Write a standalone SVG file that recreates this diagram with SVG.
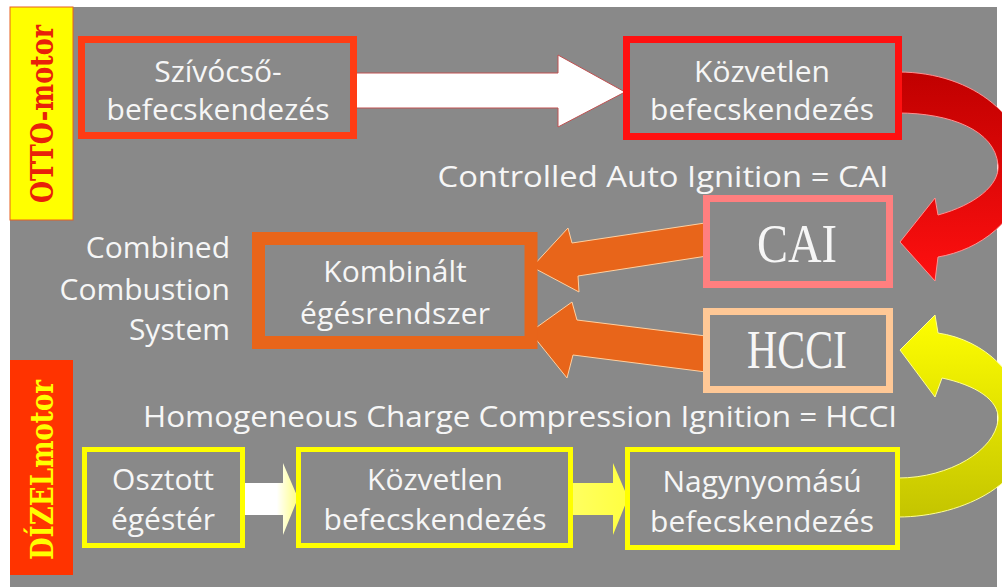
<svg xmlns="http://www.w3.org/2000/svg" width="1002" height="587" viewBox="0 0 1002 587">
<defs>
<style>
.t{font-family:"Open Sans","Noto Sans","Liberation Sans",sans-serif;font-size:30px;fill:#f6f6f6;}
.c{text-anchor:middle;}
.big{font-family:"Liberation Serif","DejaVu Serif",serif;font-size:54px;fill:#f6f6f6;text-anchor:middle;}
.side{font-family:"DejaVu Serif","Liberation Serif",serif;font-weight:bold;font-size:31px;text-anchor:middle;}
.box{fill:none;}
</style>
<linearGradient id="gRed" x1="0" y1="0" x2="0" y2="1">
<stop offset="0" stop-color="#c00000"/>
<stop offset="1" stop-color="#ff1010"/>
</linearGradient>
<linearGradient id="gYel" x1="0" y1="0" x2="0" y2="1">
<stop offset="0" stop-color="#ffff00"/>
<stop offset="1" stop-color="#c4c400"/>
</linearGradient>
<linearGradient id="gW" x1="0" y1="0" x2="1" y2="0">
<stop offset="0" stop-color="#ffffff"/>
<stop offset="0.6" stop-color="#ffffff"/>
<stop offset="1" stop-color="#ffff80"/>
</linearGradient>
<linearGradient id="gY2" x1="0" y1="0" x2="1" y2="0">
<stop offset="0" stop-color="#ffff60"/>
<stop offset="1" stop-color="#ffff40"/>
</linearGradient>
</defs>
<rect x="0" y="0" width="1002" height="587" fill="#ffffff"/>
<rect x="10" y="7" width="987" height="580" fill="#898989"/>

<g id="otto-label">
<rect x="10" y="7" width="63" height="213" fill="#ffff00" stroke="#e86020" stroke-width="1"/>
<text class="side" x="53" y="114" transform="rotate(-90 53 114)" fill="#e8200a" textLength="178" lengthAdjust="spacingAndGlyphs">OTTO-motor</text>
</g>
<g id="dizel-label">
<rect x="10" y="360" width="63" height="215" fill="#ff3300"/>
<text class="side" x="53" y="470" transform="rotate(-90 53 470)" fill="#ffff00" textLength="180" lengthAdjust="spacingAndGlyphs">DÍZELmotor</text>
</g>

<g id="connectors">
<polygon points="355,73 558,73 558,55 625,92 558,127 558,108 355,108" fill="#ffffff" stroke="#c05050" stroke-width="1"/>
<path d="M898,72 C975,72 1030,120 1025,175 C1020,220 980,250 938,257 L935,281 L900,242 L935,198 L938,215 C975,205 1000,185 998,165 C995,130 950,113 898,113 Z" fill="url(#gRed)" stroke="#ff9090" stroke-width="1"/>
<polygon points="532,267 568,228 572,243 705,223 707,256 578,276 579,292" fill="#e8651a" stroke="#ffd0a0" stroke-width="1"/>
<polygon points="530,332 572,302 577,320 706,336 706,372 573,355 567,378" fill="#e8651a" stroke="#ffd0a0" stroke-width="1"/>
<path d="M898,517 C965,517 1035,480 1028,425 C1022,375 985,340 938,333 L935,315 L900,350 L935,397 L942,378 C975,385 1000,400 998,420 C995,450 950,478 898,478 Z" fill="url(#gYel)" stroke="#ffff90" stroke-width="1"/>
<polygon points="245,483 283,483 283,463 298,498 283,535 283,515 245,515" fill="url(#gW)"/>
<polygon points="573,483 613,483 613,463 628,498 613,535 613,515 573,515" fill="url(#gY2)"/>
</g>

<g id="n-szivocso">
<rect class="box" x="81.5" y="39.5" width="272" height="96" stroke="#ff3c14" stroke-width="7"/>
<text class="t c" x="218" y="82">Szívócső-</text>
<text class="t c" x="218" y="120" textLength="223">befecskendezés</text>
</g>
<g id="n-kozvetlen-otto">
<rect class="box" x="626.5" y="39.5" width="272" height="97" stroke="#ff1010" stroke-width="7"/>
<text class="t c" x="762" y="82">Közvetlen</text>
<text class="t c" x="762" y="120" textLength="224">befecskendezés</text>
</g>
<text class="t c" x="663" y="187" textLength="451" lengthAdjust="spacingAndGlyphs">Controlled Auto Ignition =  CAI</text>
<g id="n-cai">
<rect class="box" x="706.5" y="198.5" width="183" height="86" stroke="#ff7f7f" stroke-width="7"/>
<text class="big" x="797" y="262" textLength="80" lengthAdjust="spacingAndGlyphs">CAI</text>
</g>
<g id="n-hcci">
<rect class="box" x="706.5" y="311.5" width="183" height="78" stroke="#ffc896" stroke-width="7"/>
<text class="big" x="797" y="368" textLength="100" lengthAdjust="spacingAndGlyphs">HCCI</text>
</g>
<g id="n-kombinalt">
<rect class="box" x="258.5" y="238.5" width="272.5" height="104" stroke="#e8651a" stroke-width="13"/>
<text class="t c" x="395" y="282">Kombinált</text>
<text class="t c" x="395" y="324" textLength="190">égésrendszer</text>
</g>
<g id="ccs-label">
<text class="t" x="230" y="258" text-anchor="end">Combined</text>
<text class="t" x="230" y="300" text-anchor="end">Combustion</text>
<text class="t" x="230" y="340" text-anchor="end">System</text>
</g>
<text class="t c" x="520" y="427" textLength="754" lengthAdjust="spacingAndGlyphs">Homogeneous Charge Compression Ignition = HCCI</text>
<g id="n-osztott">
<rect class="box" x="84.5" y="449.5" width="158" height="96" stroke="#ffff00" stroke-width="5"/>
<text class="t c" x="163" y="490">Osztott</text>
<text class="t c" x="163" y="530">égéstér</text>
</g>
<g id="n-kozvetlen-dizel">
<rect class="box" x="298.5" y="449.5" width="272" height="96" stroke="#ffff00" stroke-width="5"/>
<text class="t c" x="435" y="490">Közvetlen</text>
<text class="t c" x="435" y="530" textLength="223">befecskendezés</text>
</g>
<g id="n-nagynyomasu">
<rect class="box" x="627.5" y="449.5" width="270" height="98" stroke="#ffff00" stroke-width="5"/>
<text class="t c" x="762" y="492">Nagynyomású</text>
<text class="t c" x="762" y="532" textLength="224">befecskendezés</text>
</g>
</svg>
